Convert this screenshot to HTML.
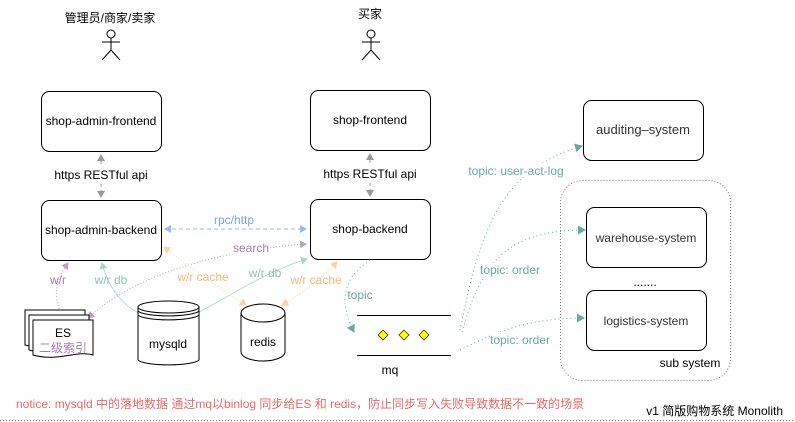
<!DOCTYPE html>
<html><head><meta charset="utf-8"><style>
html,body{margin:0;padding:0;background:#fff;}
svg{display:block;font-family:"Liberation Sans","Noto Sans CJK SC",sans-serif;}
</style></head><body>
<svg width="795" height="422" viewBox="0 0 795 422" xmlns="http://www.w3.org/2000/svg">
<defs>
<marker id="ag" markerWidth="8" markerHeight="8" refX="6" refY="4" orient="auto-start-reverse" markerUnits="userSpaceOnUse"><path d="M0,0 L7,4 L0,8 Z" fill="#999"/></marker>
<marker id="ab" markerWidth="8" markerHeight="8" refX="6" refY="4" orient="auto-start-reverse" markerUnits="userSpaceOnUse"><path d="M0,0 L7,4 L0,8 Z" fill="#99b9ec"/></marker>
<marker id="ap" markerWidth="8" markerHeight="8" refX="6" refY="4" orient="auto-start-reverse" markerUnits="userSpaceOnUse"><path d="M0,0 L7,4 L0,8 Z" fill="#b99fcc"/></marker>
<marker id="at" markerWidth="8" markerHeight="8" refX="6" refY="4" orient="auto-start-reverse" markerUnits="userSpaceOnUse"><path d="M0,0 L7,4 L0,8 Z" fill="#a8d5c6"/></marker>
<marker id="ao" markerWidth="8" markerHeight="8" refX="6" refY="4" orient="auto-start-reverse" markerUnits="userSpaceOnUse"><path d="M0,0 L7,4 L0,8 Z" fill="#fdd1a8"/></marker>
<marker id="ak" markerWidth="9" markerHeight="9" refX="7" refY="4.5" orient="auto" markerUnits="userSpaceOnUse"><path d="M0,0 L8,4.5 L0,9 Z" fill="#67ab9f"/></marker>
</defs>

<text x="110" y="22" font-size="12" text-anchor="middle">管理员/商家/卖家</text>
<text x="370" y="18" font-size="12" text-anchor="middle">买家</text>
<g stroke="#000" fill="#fff" stroke-width="1">
<circle cx="111" cy="34" r="4"/><path d="M111,38 V50 M102,42 H120 M111,50 L102,60 M111,50 L120,60" fill="none"/>
<circle cx="371" cy="34" r="4"/><path d="M371,38 V50 M362,42 H380 M371,50 L362,60 M371,50 L380,60" fill="none"/>
</g>

<g stroke="#000" fill="#fff" stroke-width="1">
<rect x="41.5" y="91.5" width="120" height="60" rx="8"/>
<rect x="310.5" y="90.5" width="120" height="60" rx="8"/>
<rect x="41.5" y="200.5" width="120" height="60" rx="8"/>
<rect x="310.5" y="199.5" width="120" height="60" rx="8"/>
<rect x="583.5" y="100.5" width="120" height="60" rx="8"/>
<rect x="586.5" y="207.5" width="120" height="60" rx="8"/>
<rect x="586.5" y="290.5" width="120" height="60" rx="8"/>
</g>
<rect x="560.5" y="180.5" width="170" height="200" rx="22" fill="none" stroke="#777" stroke-dasharray="1,2"/>
<g font-size="12" text-anchor="middle">
<text x="101" y="125">shop-admin-frontend</text>
<text x="370" y="124">shop-frontend</text>
<text x="101" y="234">shop-admin-backend</text>
<text x="370" y="233">shop-backend</text>
<text x="643" y="134" fill="#333" font-size="13">auditing–system</text>
<text x="646" y="242" fill="#333">warehouse-system</text>
<text x="646" y="325" fill="#333">logistics-system</text>
<text x="645" y="286">.......</text>
<text x="690" y="367">sub  system</text>
<text x="101" y="179">https RESTful api</text>
<text x="370" y="178">https RESTful api</text>
<text x="390" y="374">mq</text>
</g>

<g stroke="#999" stroke-dasharray="3,3" fill="none">
<path d="M101,155 V166" marker-start="url(#ag)"/><path d="M101,184 V197" marker-end="url(#ag)"/>
<path d="M370,154 V165" marker-start="url(#ag)"/><path d="M370,183 V196" marker-end="url(#ag)"/>
</g>

<path d="M165,229 H306" stroke="#99b9ec" stroke-dasharray="4,3" fill="none" marker-start="url(#ab)" marker-end="url(#ab)"/>
<text x="234" y="224" font-size="12" fill="#7ea6e0" text-anchor="middle">rpc/http</text>

<path d="M88,318 C140,270 230,250 306,244" stroke="#b99fcc" stroke-dasharray="1,2" fill="none" marker-start="url(#ap)" marker-end="url(#ap)"/>
<rect x="232" y="241" width="38" height="13" fill="#fff"/>
<text x="251" y="252" font-size="12" fill="#a680b8" text-anchor="middle">search</text>
<path d="M68,263 C52,285 55,300 62,316" stroke="#b99fcc" stroke-dasharray="1,2" fill="none" marker-start="url(#ap)" marker-end="url(#ap)"/>
<text x="58" y="284" font-size="12" fill="#a680b8" text-anchor="middle">w/r</text>

<path d="M102,263 C110,295 130,310 145,316" stroke="#a8d5c6" fill="none" stroke-width="0.8" marker-start="url(#at)" marker-end="url(#at)"/>
<text x="111" y="284" font-size="12" fill="#8cc4b2" text-anchor="middle">w/r db</text>
<path d="M192,316 C240,290 270,270 307,259" stroke="#a8d5c6" fill="none" stroke-width="0.8" marker-start="url(#at)" marker-end="url(#at)"/>
<text x="265" y="277" font-size="12" fill="#8cc4b2" text-anchor="middle">w/r db</text>

<path d="M164,247 C200,275 230,295 246,305" stroke="#fdd1a8" stroke-dasharray="1,2" fill="none" marker-start="url(#ao)" marker-end="url(#ao)"/>
<text x="203" y="281" font-size="12" fill="#fdb77a" text-anchor="middle">w/r cache</text>
<path d="M282,305 C300,295 320,280 337,262" stroke="#fdd1a8" stroke-dasharray="1,2" fill="none" marker-start="url(#ao)" marker-end="url(#ao)"/>
<text x="316" y="284" font-size="12" fill="#fdb77a" text-anchor="middle">w/r cache</text>

<g stroke="#000" fill="#fff" stroke-width="1">
<path d="M25,310 H85 V345 C70,340 50,352 25,345 Z"/>
<path d="M29,315 H89 V350 C74,345 54,357 29,350 Z"/>
<path d="M33,320 H93 V355 C78,350 58,362 33,355 Z"/>
</g>
<text x="63" y="337" font-size="12" text-anchor="middle">ES</text>
<text x="63" y="352" font-size="12" fill="#a680b8" text-anchor="middle">二级索引</text>

<g stroke="#000" fill="#fff" stroke-width="1">
<path d="M138,307 V360 A31,6 0 0 0 199,360 V307"/>
<ellipse cx="168.5" cy="307" rx="30.5" ry="6"/>
<path d="M138,311 A31,6 0 0 0 199,311 M138,315 A31,6 0 0 0 199,315" fill="none"/>
</g>
<text x="168" y="348" font-size="12" text-anchor="middle">mysqld</text>
<g stroke="#000" fill="#fff" stroke-width="1">
<path d="M241,313 V352 A22,9 0 0 0 285,352 V313"/>
<ellipse cx="263" cy="313" rx="22" ry="9"/>
</g>
<text x="263" y="346" font-size="12" text-anchor="middle">redis</text>

<path d="M357,315.5 H451 M357,355.5 H451" stroke="#000"/>
<g fill="#ffff00" stroke="#333" stroke-width="0.8">
<path d="M383,330 L388,335 L383,340 L378,335 Z"/>
<path d="M404,330 L409,335 L404,340 L399,335 Z"/>
<path d="M424,330 L429,335 L424,340 L419,335 Z"/>
</g>

<g stroke="#67ab9f" stroke-dasharray="1,3" fill="none" stroke-width="1">
<path d="M370,260 C340,280 340,305 354,332" marker-end="url(#ak)"/>
<path d="M460,330 C480,230 500,170 582,146" marker-end="url(#ak)"/>
<path d="M462,332 C480,270 500,230 585,230" marker-end="url(#ak)"/>
<path d="M460,350 C500,330 530,318 584,318" marker-end="url(#ak)"/>
</g>
<g font-size="12" fill="#67ab9f" text-anchor="middle">
<text x="360" y="299">topic</text>
<rect x="468" y="163" width="96" height="14" fill="#fff"/>
<text x="516" y="175">topic: user-act-log</text>
<rect x="480" y="263" width="61" height="14" fill="#fff"/>
<text x="510" y="274">topic: order</text>
<rect x="490" y="332" width="61" height="14" fill="#fff"/>
<text x="520" y="344">topic: order</text>
</g>

<text x="16" y="408" font-size="12" fill="#ea6b66">notice: mysqld 中的落地数据 通过mq以binlog 同步给ES 和 redis，防止同步写入失败导致数据不一致的场景</text>
<text x="783" y="415" font-size="12" text-anchor="end">v1 简版购物系统 Monolith</text>
<path d="M0,420.5 H795" stroke="#777" stroke-dasharray="1,2"/>
</svg>
</body></html>
